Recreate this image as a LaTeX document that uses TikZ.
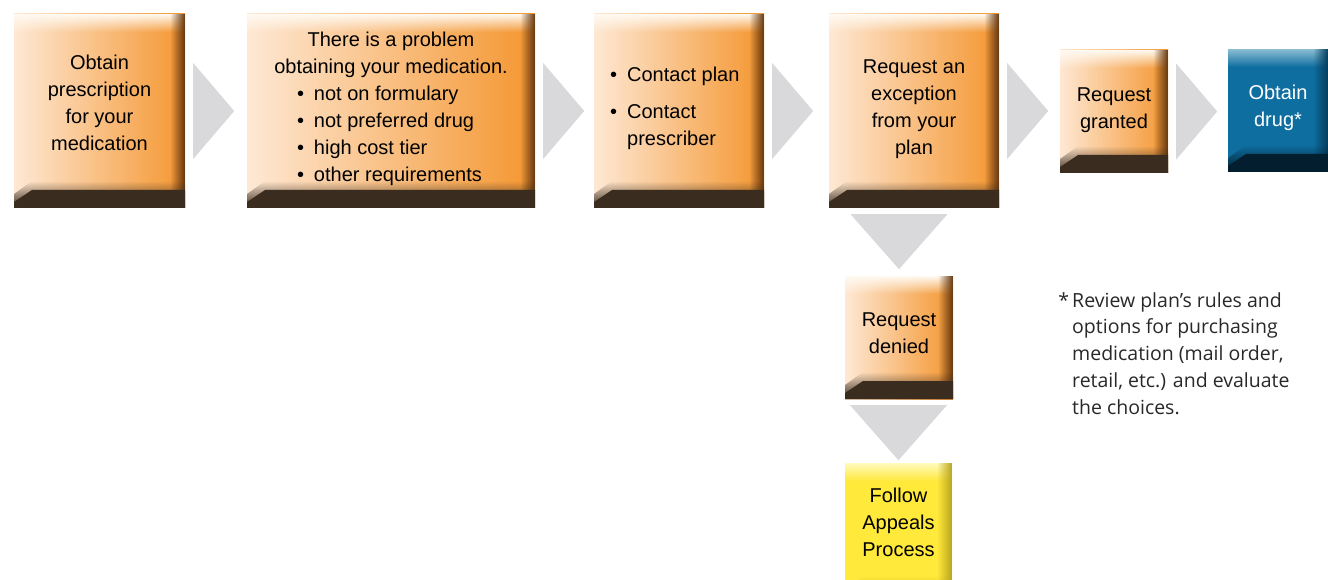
\documentclass[tikz,border=0pt]{standalone}
\usepackage{fontspec}
\setmainfont{Liberation Sans}
\newfontfamily\notefont{Open Sans}
\usetikzlibrary{calc,fadings}

\definecolor{peach}{RGB}{254,232,212}
\definecolor{tangerine}{RGB}{244,150,48}
\definecolor{rustedge}{RGB}{100,55,15}
\definecolor{darkband}{RGB}{58,44,30}
\definecolor{glare}{RGB}{255,250,242}
\definecolor{steelblue}{RGB}{14,110,160}
\definecolor{paleblue}{RGB}{140,190,212}
\definecolor{blueedge}{RGB}{6,60,92}
\definecolor{deepblue}{RGB}{3,30,46}
\definecolor{lemon}{RGB}{255,233,58}
\definecolor{palelemon}{RGB}{255,250,190}
\definecolor{lemonedge}{RGB}{185,165,30}
\definecolor{chevrongray}{RGB}{217,217,220}
\definecolor{notegray}{RGB}{40,40,40}

\newcommand\itemdot{\makebox[17pt][l]{\textbullet}}

\tikzset{
  bevel/.style n args={3}{path picture={
      \coordinate (nw) at (path picture bounding box.north west);
      \coordinate (se) at (path picture bounding box.south east);
      %% glare along the top
      \fill[#1, path fading=south] (nw) rectangle ([yshift=-18pt]nw -| se);
      %% shade on the right
      \fill[#2, path fading=west] ([xshift=-15pt]nw -| se) rectangle (se);
      %% dark band at the bottom, soft top edge first
      \fill[#3, path fading=north] ([yshift=14pt]nw |- se) -- ([xshift=18pt,yshift=27pt]nw |- se)
        -- ([yshift=27pt]se) -- (se) -- (nw |- se) -- cycle;
      \fill[#3] ([yshift=6pt]nw |- se) -- ([xshift=18pt,yshift=18pt]nw |- se)
        -- ([yshift=18pt]se) -- (se) -- (nw |- se) -- cycle;
  }},
  orangebox/.style={rectangle, inner sep=0pt, left color=peach, right color=tangerine,
    bevel={glare}{rustedge}{darkband}},
  bluebox/.style={rectangle, inner sep=0pt, fill=steelblue,
    bevel={paleblue}{blueedge}{deepblue}},
  yellowbox/.style={rectangle, inner sep=0pt, fill=lemon,
    bevel={palelemon}{lemonedge}{lemonedge}},
  boxtext/.style={align=center, inner sep=0pt, font=\fontsize{20}{27}\selectfont},
  chevron/.style={fill=chevrongray},
  note/.style={align=left, inner sep=0pt, text=notegray,
    font=\notefont\fontsize{19.5}{26.7}\selectfont},
}

\begin{document}
\begin{tikzpicture}[x=1pt,y=-1pt]
    \useasboundingbox (0,0) rectangle (1328,580);
    %% top row of steps
    \node[orangebox, minimum width=171pt, minimum height=194pt] (obtain) at (99.5,111) {};
    \node[orangebox, minimum width=288pt, minimum height=194pt] (problem) at (391,111) {};
    \node[orangebox, minimum width=170pt, minimum height=194pt] (contact) at (679,111) {};
    \node[orangebox, minimum width=170pt, minimum height=194pt] (exception) at (914,111) {};
    \node[orangebox, minimum width=108pt, minimum height=123pt] (granted) at (1114,111.5) {};
    \node[bluebox, minimum width=100pt, minimum height=123pt] (drug) at (1278,110.5) {};
    %% column below the exception
    \node[orangebox, minimum width=108pt, minimum height=123pt] (denied) at (899,337.5) {};
    \node[yellowbox, minimum width=107pt, minimum height=140pt] (appeals) at (898.5,533) {};

    %% texts of the steps
    \node[boxtext] (obtain text) at ([yshift=8pt]obtain.center) {Obtain\\prescription\\for your\\medication};
    \node[boxtext] (problem text) at ([yshift=2pt]problem.center) {There is a problem\\obtaining your medication.\\
        \makebox[188pt][l]{\itemdot not on formulary}\\
        \makebox[188pt][l]{\itemdot not preferred drug}\\
        \makebox[188pt][l]{\itemdot high cost tier}\\
        \makebox[188pt][l]{\itemdot other requirements}};
    \node[boxtext, align=left, anchor=west] (contact text) at ([yshift=3pt]contact.center -| 610,0)
        {\itemdot Contact plan\\[10pt]\itemdot Contact\\\hphantom{\itemdot}prescriber};
    \node[boxtext] (exception text) at ([yshift=1.5pt]exception.center) {Request an\\exception\\from your\\plan};
    \node[boxtext] (granted text) at ([yshift=1pt]granted.center) {Request\\granted};
    \node[boxtext, text=white] (drug text) at ([yshift=3pt]drug.center) {Obtain\\drug*};
    \node[boxtext] (denied text) at ([yshift=4pt]denied.center) {Request\\denied};
    \node[boxtext] (appeals text) at ([yshift=11pt]appeals.center) {Follow\\Appeals\\Process};

    %% chevrons between the steps
    \foreach \from/\to in {obtain/problem,problem/contact,contact/exception,exception/granted,granted/drug}
        \fill[chevron] ($(\from.east)+(8,-48)$) -- ($(\from.east)+(49,0)$) -- ($(\from.east)+(8,48)$) -- cycle;
    \foreach \from/\to in {exception/denied,denied/appeals}
        \fill[chevron] ($(\from.south -| \to.north)+(-48.5,6)$) -- ($(\from.south -| \to.north)+(0,61)$)
            -- ($(\from.south -| \to.north)+(48.5,6)$) -- cycle;

    %% footnote
    \node[note, anchor=base west] (footnote) at (1072,414)
        {\llap{*\hspace{3pt}}Review plan’s rules and\\options for purchasing\\medication (mail order,\\retail, etc.) and evaluate\\the choices.};
\end{tikzpicture}
\end{document}
